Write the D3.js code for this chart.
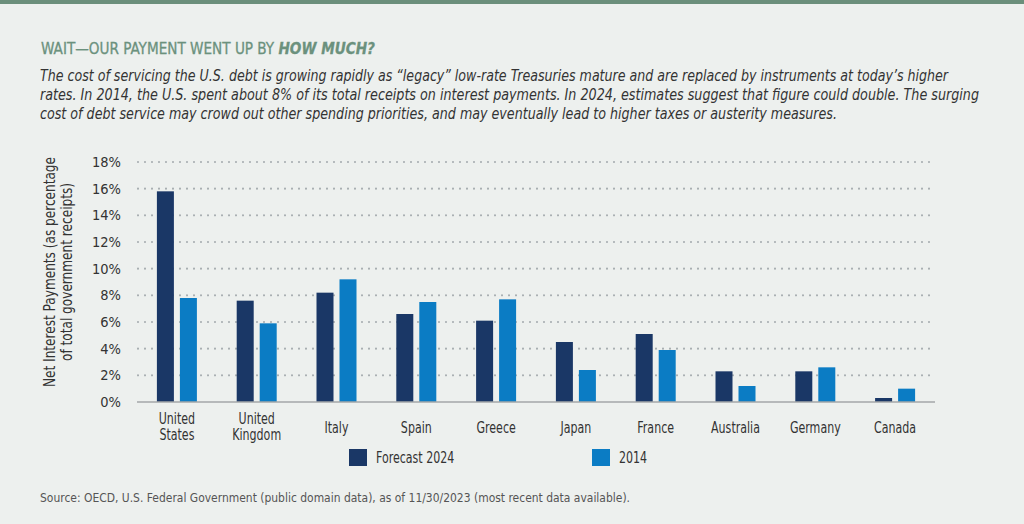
<!DOCTYPE html>
<html>
<head>
<meta charset="utf-8">
<script src="https://cdn.jsdelivr.net/npm/d3@7"></script>
<style>
  body { margin: 0; background: #edf0ee; }
  svg { display: block; font-family: "DejaVu Sans", sans-serif; font-stretch: condensed; }
</style>
</head>
<body>
<div id="chart"></div>
<script>
const countries = ["United States", "United Kingdom", "Italy", "Spain", "Greece",
                   "Japan", "France", "Australia", "Germany", "Canada"];
const forecast2024 = [15.8, 7.6, 8.2, 6.6, 6.1, 4.5, 5.1, 2.3, 2.3, 0.3];
const actual2014 = [7.8, 5.9, 9.2, 7.5, 7.7, 2.4, 3.9, 1.2, 2.6, 1.0];
const yTicks = [0, 2, 4, 6, 8, 10, 12, 14, 16, 18];
const seriesNames = ["Forecast 2024", "2014"];
const colors = ["#1a3766", "#0b7cc4"];

const width = 1024;
const height = 524;
const margin = { top: 162, right: 89, bottom: 122, left: 137 };
const squeeze = 0.82; // fonte da referencia e mais estreita

const svg = d3.select("#chart")
    .append("svg")
    .attr("width", width)
    .attr("height", height);

svg.append("rect")
    .attr("width", width)
    .attr("height", height)
    .attr("fill", "#edf0ee");

// faixa verde do topo
svg.append("rect")
    .attr("width", width)
    .attr("height", 4)
    .attr("fill", "#6b8f7b");

// titulo
const title = svg.append("text")
    .attr("x", 41)
    .attr("y", 54)
    .attr("font-size", 16.5)
    .attr("fill", "#6b917d")
    .attr("stroke", "#6b917d")
    .attr("stroke-width", 0.3)
    .attr("textLength", 334)
    .attr("lengthAdjust", "spacingAndGlyphs");
title.append("tspan").text("WAIT\u2014OUR PAYMENT WENT UP BY ");
title.append("tspan")
    .attr("font-weight", "bold")
    .attr("font-style", "italic")
    .text("HOW MUCH?");

const subLines = [
    "The cost of servicing the U.S. debt is growing rapidly as \u201clegacy\u201d low-rate Treasuries mature and are replaced by instruments at today\u2019s higher",
    "rates. In 2014, the U.S. spent about 8% of its total receipts on interest payments. In 2024, estimates suggest that figure could double. The surging",
    "cost of debt service may crowd out other spending priorities, and may eventually lead to higher taxes or austerity measures."
];
const subWidths = [908, 939, 797];
svg.append("g")
    .selectAll("text")
    .data(subLines)
    .join("text")
    .attr("x", 40)
    .attr("y", (d, i) => 81 + i * 19)
    .attr("font-size", 15)
    .attr("font-style", "italic")
    .attr("fill", "#333")
    .attr("textLength", (d, i) => subWidths[i])
    .attr("lengthAdjust", "spacingAndGlyphs")
    .text(d => d);

const innerWidth = width - margin.left - margin.right;
const innerHeight = height - margin.top - margin.bottom;

const g = svg.append("g")
    .attr("transform", `translate(${margin.left}, ${margin.top})`);

const x = d3.scaleBand()
    .domain(countries)
    .range([0, innerWidth]);

const yScale = d3.scaleLinear()
    .domain([0, 18])
    .range([innerHeight, 0]);

// grade pontilhada
g.append("g")
    .selectAll("line")
    .data(yTicks.filter(d => d > 0))
    .join("line")
    .attr("x1", 1)
    .attr("x2", innerWidth)
    .attr("y1", d => yScale(d))
    .attr("y2", d => yScale(d))
    .attr("stroke", "#a9afb2")
    .attr("stroke-width", 2.2)
    .attr("stroke-linecap", "round")
    .attr("stroke-dasharray", "0,7");

// eixo y
const yAxis = g.append("g")
    .call(d3.axisLeft(yScale).tickValues(yTicks).tickFormat(d => d + "%").tickSize(0).tickPadding(16));
yAxis.select(".domain").remove();
yAxis.selectAll("text")
    .attr("font-size", 14.5)
    .attr("fill", "#333")
    .attr("font-family", "DejaVu Sans, sans-serif");

// barras
const barW = 17;
const gap = 6;
const groups = g.append("g")
    .selectAll("g")
    .data(countries)
    .join("g")
    .attr("transform", d => `translate(${x(d) + x.bandwidth() / 2}, 0)`);

groups.append("rect")
    .attr("x", -barW - gap / 2)
    .attr("width", barW)
    .attr("y", (d, i) => yScale(forecast2024[i]))
    .attr("height", (d, i) => innerHeight - yScale(forecast2024[i]))
    .attr("fill", colors[0]);

groups.append("rect")
    .attr("x", gap / 2)
    .attr("width", barW)
    .attr("y", (d, i) => yScale(actual2014[i]))
    .attr("height", (d, i) => innerHeight - yScale(actual2014[i]))
    .attr("fill", colors[1]);

// linha base
g.append("line")
    .attr("x1", 0)
    .attr("x2", innerWidth)
    .attr("y1", innerHeight)
    .attr("y2", innerHeight)
    .attr("stroke", "#a3a7a9")
    .attr("stroke-width", 1.5);

// rotulos do eixo x
groups.append("text")
    .attr("text-anchor", "middle")
    .attr("font-size", 15)
    .attr("fill", "#333")
    .attr("transform", `scale(${squeeze}, 1)`)
    .each(function (d) {
        const words = d.split(" ");
        const sel = d3.select(this);
        if (words.length === 1) {
            sel.append("tspan").attr("x", 0).attr("y", innerHeight + 31).text(d);
        } else {
            words.forEach((w, i) => {
                sel.append("tspan").attr("x", 0).attr("y", innerHeight + 22 + i * 16).text(w);
            });
        }
    });

// titulo do eixo y
const yTitle = svg.append("text")
    .attr("transform", "translate(0, 272) rotate(-90)")
    .attr("text-anchor", "middle")
    .attr("font-size", 15.5)
    .attr("fill", "#333");
yTitle.append("tspan").attr("x", 0).attr("y", 55)
    .attr("textLength", 230).attr("lengthAdjust", "spacingAndGlyphs")
    .text("Net Interest Payments (as percentage");
yTitle.append("tspan").attr("x", 0).attr("y", 72)
    .attr("textLength", 178).attr("lengthAdjust", "spacingAndGlyphs")
    .text("of total government receipts)");

// legenda
const legendX = [349, 592];
const legend = svg.append("g")
    .selectAll("g")
    .data(seriesNames)
    .join("g")
    .attr("transform", (d, i) => `translate(${legendX[i]}, 449)`);
legend.append("rect")
    .attr("width", 18)
    .attr("height", 17)
    .attr("fill", (d, i) => colors[i]);
legend.append("text")
    .attr("transform", `translate(27, 14) scale(${squeeze}, 1)`)
    .attr("font-size", 15)
    .attr("fill", "#333")
    .text(d => d);

// fonte
svg.append("text")
    .attr("x", 40)
    .attr("y", 502)
    .attr("font-size", 12.5)
    .attr("fill", "#555")
    .attr("textLength", 590)
    .attr("lengthAdjust", "spacingAndGlyphs")
    .text("Source: OECD, U.S. Federal Government (public domain data), as of 11/30/2023 (most recent data available).");
</script>
</body>
</html>
